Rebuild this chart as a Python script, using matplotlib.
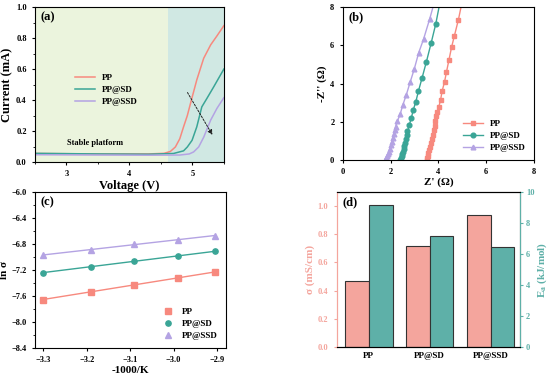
import matplotlib
matplotlib.use("Agg")
from matplotlib import pyplot as plt
from matplotlib.ticker import MultipleLocator, FormatStrFormatter
import numpy as np

plt.rcParams.update({
    'font.family': 'Liberation Serif',
    'font.weight': 'bold',
    'axes.labelweight': 'bold',
    'font.size': 6,
    'xtick.direction': 'out',
    'ytick.direction': 'out',
    'xtick.major.size': 2.5,
    'ytick.major.size': 2.5,
    'xtick.minor.size': 1.5,
    'ytick.minor.size': 1.5,
    'axes.linewidth': 0.8,
})

c_pp = '#F7897E'
c_sd = '#3AA596'
c_ssd = '#B4A3E3'
labels = ['PP', 'PP@SD', 'PP@SSD']

# (a) LSV
v_pp = [2.5, 3.5, 4.3, 4.55, 4.65, 4.73, 4.8, 4.86, 4.92, 4.97, 5.07, 5.18, 5.29, 5.39, 5.5]
i_pp = [0.055, 0.052, 0.052, 0.056, 0.068, 0.097, 0.15, 0.227, 0.30, 0.378, 0.53, 0.67, 0.756, 0.814, 0.88]
v_sd = [2.5, 3.5, 4.3, 4.7, 4.86, 4.92, 4.995, 5.07, 5.15, 5.23, 5.34, 5.5]
i_sd = [0.056, 0.052, 0.050, 0.055, 0.072, 0.097, 0.14, 0.227, 0.356, 0.41, 0.486, 0.60]
v_ssd = [2.5, 3.5, 4.3, 4.8, 4.95, 5.02, 5.1, 5.18, 5.29, 5.39, 5.5]
i_ssd = [0.047, 0.045, 0.044, 0.045, 0.052, 0.065, 0.097, 0.16, 0.27, 0.346, 0.415]

# (b) EIS
zr_pp = [3.51, 3.53, 3.55, 3.58, 3.61, 3.64, 3.68, 3.72, 3.76, 3.80, 3.84, 3.88, 3.92, 3.96,
         4.02, 4.09, 4.16, 4.26, 4.34, 4.44, 4.55, 4.67, 4.84, 4.98]
zi_pp = [0.03, 0.10, 0.22, 0.36, 0.52, 0.70, 0.90, 1.10, 1.32, 1.55, 1.80, 2.05, 2.30, 2.52,
         2.79, 3.13, 3.62, 4.10, 4.61, 5.22, 5.89, 6.50, 7.35, 8.2]
zr_sd = [2.41, 2.43, 2.46, 2.49, 2.52, 2.55, 2.58, 2.61, 2.64, 2.67, 2.71, 2.78, 2.87, 2.95,
         3.06, 3.17, 3.32, 3.50, 3.70, 3.89, 4.06]
zi_sd = [0.03, 0.10, 0.20, 0.32, 0.45, 0.60, 0.75, 0.92, 1.10, 1.30, 1.50, 1.82, 2.20, 2.62,
         3.06, 3.62, 4.30, 5.14, 6.13, 7.11, 8.2]
zr_ssd = [1.78, 1.81, 1.85, 1.89, 1.93, 1.97, 2.01, 2.05, 2.09, 2.13, 2.17, 2.21, 2.29, 2.41,
          2.52, 2.66, 2.82, 2.99, 3.18, 3.38, 3.64, 3.82]
zi_ssd = [0.03, 0.10, 0.20, 0.32, 0.45, 0.60, 0.78, 0.95, 1.15, 1.35, 1.55, 1.75, 2.04, 2.43,
          2.90, 3.41, 4.07, 4.75, 5.62, 6.32, 7.39, 8.2]

# (c) Arrhenius
inv_t = [-3.30, -3.19, -3.09, -2.99, -2.905]
ln_pp = [-7.656, -7.533, -7.426, -7.323, -7.231]
ln_sd = [-7.241, -7.149, -7.062, -6.985, -6.913]
ln_ssd = [-6.969, -6.887, -6.805, -6.733, -6.672]

# (d) conductivity / activation energy
sigma = [0.47, 0.72, 0.94]
ea = [9.18, 7.14, 6.43]

fig = plt.figure(figsize=(5.5, 3.75), dpi=100)

# ---------------- (a)
ax = fig.add_axes([0.0636, 0.568, 0.3434, 0.413])
ax.axvspan(2.5, 4.62, facecolor='#EBF4DD', zorder=0)
ax.axvspan(4.62, 5.5, facecolor='#D0E8E3', zorder=0)
ax.plot(v_pp, i_pp, color=c_pp, lw=1.1, label='PP')
ax.plot(v_sd, i_sd, color=c_sd, lw=1.1, label='PP@SD')
ax.plot(v_ssd, i_ssd, color=c_ssd, lw=1.1, label='PP@SSD')
ax.annotate('', xy=(5.34, 0.16), xytext=(4.9, 0.464),
            arrowprops=dict(arrowstyle='-|>', ls=(0, (2, 1.5)), lw=0.7, color='#222222',
                            mutation_scale=7))
ax.text(3.46, 0.125, 'Stable platform', ha='center', va='center', fontsize=6)
ax.text(0.03, 0.97, '(a)', transform=ax.transAxes, ha='left', va='top', fontsize=9)
ax.set_xlim(2.5, 5.5)
ax.set_ylim(0, 1.0)
ax.xaxis.set_major_locator(MultipleLocator(1))
ax.xaxis.set_minor_locator(MultipleLocator(0.5))
ax.yaxis.set_major_locator(MultipleLocator(0.2))
ax.yaxis.set_minor_locator(MultipleLocator(0.1))
ax.set_xlabel('Voltage (V)', fontsize=9, labelpad=1)
ax.set_ylabel('Current (mA)', fontsize=9, labelpad=2)
ax.legend(loc='upper left', bbox_to_anchor=(0.17, 0.62), frameon=False, fontsize=6.5,
          handlelength=2.2, labelspacing=0.4)

# ---------------- (b)
ax = fig.add_axes([0.623, 0.573, 0.348, 0.408])
ax.plot(zr_pp, zi_pp, color=c_pp, marker='s', ms=3.2, lw=1, label='PP',
        markevery=list(range(len(zr_pp) - 1)))
ax.plot(zr_sd, zi_sd, color=c_sd, marker='o', ms=3.4, lw=1, label='PP@SD',
        markevery=list(range(len(zr_sd) - 1)))
ax.plot(zr_ssd, zi_ssd, color=c_ssd, marker='^', ms=3.4, lw=1, label='PP@SSD',
        markevery=list(range(len(zr_ssd) - 1)))
ax.text(0.03, 0.97, '(b)', transform=ax.transAxes, ha='left', va='top', fontsize=9)
ax.set_xlim(0, 8)
ax.set_ylim(0, 8)
ax.xaxis.set_major_locator(MultipleLocator(2))
ax.yaxis.set_major_locator(MultipleLocator(2))
ax.set_xlabel("Z' (Ω)", fontsize=8, labelpad=1)
ax.set_ylabel("-Z'' (Ω)", fontsize=8, labelpad=2)
ax.legend(loc='lower right', frameon=False, fontsize=6.5, handlelength=2.2, labelspacing=0.4)

# ---------------- (c)
ax = fig.add_axes([0.0636, 0.072, 0.3474, 0.416])
for y, c, m, lab in [(ln_pp, c_pp, 's', 'PP'), (ln_sd, c_sd, 'o', 'PP@SD'), (ln_ssd, c_ssd, '^', 'PP@SSD')]:
    k, b = np.polyfit(inv_t, y, 1)
    xs = np.array([inv_t[0], inv_t[-1]])
    ax.plot(xs, k * xs + b, color=c, lw=1)
    ax.plot(inv_t, y, ls='none', marker=m, ms=3.8, color=c, label=lab)
ax.text(0.03, 0.97, '(c)', transform=ax.transAxes, ha='left', va='top', fontsize=9)
ax.set_xlim(-3.319, -2.879)
ax.set_ylim(-8.4, -6.0)
ax.xaxis.set_major_locator(MultipleLocator(0.1))
ax.yaxis.set_major_locator(MultipleLocator(0.4))
ax.yaxis.set_minor_locator(MultipleLocator(0.2))
ax.set_xlabel('-1000/K', fontsize=8, labelpad=1)
ax.set_ylabel('ln σ', fontsize=8, labelpad=2)
ax.legend(loc='lower right', frameon=False, fontsize=6.5, handlelength=1.5, labelspacing=0.4)

# ---------------- (d)
ax = fig.add_axes([0.612, 0.075, 0.333, 0.413])
x = np.arange(len(labels))
w = 0.39
c_bar1 = '#F4A59D'
c_bar2 = '#5EB0A8'
ax.bar(x - w / 2, sigma, w, color=c_bar1, edgecolor='#333333', lw=0.8)
ax.set_xlim(-0.53, 2.48)
ax.set_ylim(0, 1.1)
ax.set_xticks(x)
ax.set_xticklabels(labels, fontsize=6.5)
ax.tick_params(axis='x', length=0)
ax.yaxis.set_major_locator(MultipleLocator(0.2))
ax.yaxis.set_major_formatter(FormatStrFormatter('%.1f'))
ax.set_ylabel('σ (mS/cm)', fontsize=8, color=c_bar1, labelpad=2)
ax.tick_params(axis='y', colors=c_bar1)
ax.spines['left'].set_color(c_bar1)
ax.text(0.03, 0.97, '(d)', transform=ax.transAxes, ha='left', va='top', fontsize=9)
ax2 = ax.twinx()
ax2.bar(x + w / 2, ea, w, color=c_bar2, edgecolor='#333333', lw=0.8)
ax2.set_ylim(0, 10)
ax2.yaxis.set_major_locator(MultipleLocator(2))
ax2.set_ylabel('E$_\\mathregular{a}$ (kJ/mol)', fontsize=8, color=c_bar2, labelpad=1)
ax2.tick_params(axis='y', colors=c_bar2, pad=2)
ax2.spines['right'].set_color(c_bar2)
ax2.spines['left'].set_color(c_bar1)

fig.savefig('out.png', dpi=100)
